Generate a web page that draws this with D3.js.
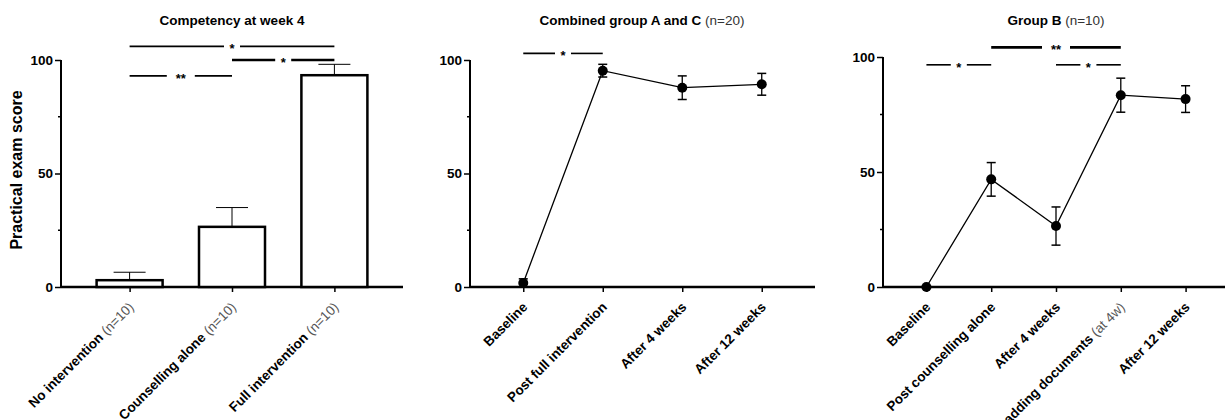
<!DOCTYPE html>
<html>
<head>
<meta charset="utf-8">
<script src="https://cdn.jsdelivr.net/npm/d3@7"></script>
<style>
  html, body { margin: 0; padding: 0; background: #fff; }
  svg { display: block; font-family: "Liberation Sans", Arial, sans-serif; }
</style>
</head>
<body>
<svg id="chart" width="1225" height="420"></svg>
<script>
// ---------- Data ----------
// Panel 1: bar chart
const p1Categories = ["No intervention", "Counselling alone", "Full intervention"];
const p1Suffix = ["(n=10)", "(n=10)", "(n=10)"];
const p1Values = [3, 26.5, 93.3];
const p1Errors = [3.5, 8.5, 4.8];
const p1Sig = [
  { from: 0, to: 2, label: "*", y: 106, heavy: false },
  { from: 1, to: 2, label: "*", y: 100, heavy: true },
  { from: 0, to: 1, label: "**", y: 93, heavy: false }
];

// Panel 2: combined group A and C
const p2Categories = ["Baseline", "Post full intervention", "After 4 weeks", "After 12 weeks"];
const p2Suffix = ["", "", "", ""];
const p2Values = [1.8, 95.3, 87.8, 89.3];
const p2Errors = [1.8, 2.8, 5.2, 4.8];
const p2Sig = [
  { from: 0, to: 1, label: "*", y: 102.9, heavy: false }
];

// Panel 3: group B
const p3Categories = ["Baseline", "Post counselling alone", "After 4 weeks", "Post adding documents", "After 12 weeks"];
const p3Suffix = ["", "", "", "(at 4w)", ""];
const p3Values = [0, 46.8, 26.5, 83.4, 81.7];
const p3Errors = [0, 7.3, 8.3, 7.4, 5.8];
const p3Sig = [
  { from: 1, to: 3, label: "**", y: 104.2, heavy: true },
  { from: 0, to: 1, label: "*", y: 96.6, heavy: false },
  { from: 2, to: 3, label: "*", y: 96.6, heavy: false }
];

const yTicksMajor = [0, 50, 100];
const yTicksMinor = [25, 75];
const titles = [
  { bold: "Competency at week 4", normal: "" },
  { bold: "Combined group A and C", normal: " (n=20)" },
  { bold: "Group B", normal: " (n=10)" }
];
const yLabel = "Practical exam score";

// ---------- Drawing ----------
const svg = d3.select("#chart");
const axisY0 = 287;

function drawPanel(cfg) {
  const g = svg.append("g");
  const x = d3.scalePoint().domain(cfg.categories).range([cfg.x0, cfg.x1]).padding(0.67);
  const y = d3.scaleLinear().domain([0, 100]).range([axisY0, cfg.yTop]);

  // axes
  const yAxis = d3.axisLeft(y).tickValues(yTicksMajor).tickSize(6).tickPadding(2);
  const ya = g.append("g").attr("transform", `translate(${cfg.x0},0)`).call(yAxis);
  ya.select(".domain").attr("d", `M0,${y(100)}V${axisY0}`).attr("stroke-width", 2);
  ya.selectAll(".tick line").attr("stroke-width", 1.5);
  ya.selectAll(".tick text").attr("font-size", 13.5).attr("font-weight", "bold").attr("fill", "#000")
    .attr("font-family", "Liberation Sans, Arial, sans-serif");
  g.selectAll(".minor").data(yTicksMinor).join("line")
    .attr("x1", cfg.x0 - 3).attr("x2", cfg.x0)
    .attr("y1", d => y(d)).attr("y2", d => y(d))
    .attr("stroke", "#000").attr("stroke-width", 1.5);

  const xAxis = d3.axisBottom(x).tickSize(5).tickFormat("");
  const xa = g.append("g").attr("transform", `translate(0,${axisY0})`).call(xAxis);
  xa.select(".domain").attr("d", `M${cfg.x0},0H${cfg.x1}`).attr("stroke-width", 2.5);
  xa.selectAll(".tick line").attr("stroke-width", 1.5);

  // x tick labels
  cfg.categories.forEach((c, i) => {
    const t = g.append("text")
      .attr("transform", `translate(${x(c) + 5},${axisY0 + 21}) rotate(-45)`)
      .attr("text-anchor", "end")
      .attr("font-size", 13.5);
    t.append("tspan").attr("font-weight", "bold").attr("fill", "#000").text(c);
    if (cfg.suffix[i]) t.append("tspan").attr("font-weight", "normal").attr("fill", "#555").text(" " + cfg.suffix[i]);
  });

  // title
  const tt = g.append("text")
    .attr("x", cfg.titleX).attr("y", 25)
    .attr("text-anchor", "middle").attr("font-size", 13.5);
  tt.append("tspan").attr("font-weight", "bold").attr("fill", "#000").text(cfg.title.bold);
  if (cfg.title.normal) tt.append("tspan").attr("fill", "#333").text(cfg.title.normal);

  // significance brackets
  cfg.sig.forEach(s => {
    const xa0 = x(cfg.categories[s.from]), xa1 = x(cfg.categories[s.to]);
    const mid = (xa0 + xa1) / 2;
    const yy = y(s.y);
    const gap = s.label.length > 1 ? 14 : 8;
    const sw = s.heavy ? 2.6 : 1.6;
    g.append("line").attr("x1", xa0).attr("x2", mid - gap).attr("y1", yy).attr("y2", yy)
      .attr("stroke", "#000").attr("stroke-width", sw);
    g.append("line").attr("x1", mid + gap).attr("x2", xa1).attr("y1", yy).attr("y2", yy)
      .attr("stroke", "#000").attr("stroke-width", sw);
    g.append("text").attr("x", mid).attr("y", yy + 7).attr("text-anchor", "middle")
      .attr("font-size", 13).attr("font-weight", "bold").text(s.label);
  });

  return { g, x, y };
}

// Panel 1 (bars)
{
  const { g, x, y } = drawPanel({
    categories: p1Categories, suffix: p1Suffix, x0: 61, x1: 403, yTop: 60,
    title: titles[0], titleX: 232, sig: p1Sig
  });
  const bw = 66;
  const data = p1Categories.map((c, i) => ({ c, v: p1Values[i], e: p1Errors[i] }));
  // error bars (upward only)
  g.selectAll(".err").data(data).join("g").each(function(d) {
    const gg = d3.select(this);
    gg.append("line").attr("x1", x(d.c)).attr("x2", x(d.c)).attr("y1", y(d.v)).attr("y2", y(d.v + d.e))
      .attr("stroke", "#000").attr("stroke-width", 1);
    gg.append("line").attr("x1", x(d.c) - 16).attr("x2", x(d.c) + 16).attr("y1", y(d.v + d.e)).attr("y2", y(d.v + d.e))
      .attr("stroke", "#000").attr("stroke-width", 1);
  });
  g.selectAll(".bar").data(data).join("rect")
    .attr("x", d => x(d.c) - bw / 2).attr("width", bw)
    .attr("y", d => y(d.v)).attr("height", d => axisY0 - y(d.v))
    .attr("fill", "#fff").attr("stroke", "#000").attr("stroke-width", 2.5);
  // y label
  svg.append("text").attr("transform", `translate(22,170) rotate(-90)`)
    .attr("text-anchor", "middle").attr("font-size", 16).attr("font-weight", "bold").text(yLabel);
}

function drawLinePanel(cfg, values, errors) {
  const { g, x, y } = drawPanel(cfg);
  const data = cfg.categories.map((c, i) => ({ c, v: values[i], e: errors[i] }));
  g.append("path").datum(data)
    .attr("d", d3.line().x(d => x(d.c)).y(d => y(d.v)))
    .attr("fill", "none").attr("stroke", "#000").attr("stroke-width", 1.3);
  data.forEach(d => {
    if (d.e > 0) {
      const lo = Math.max(0, d.v - d.e), hi = d.v + d.e;
      g.append("line").attr("x1", x(d.c)).attr("x2", x(d.c)).attr("y1", y(lo)).attr("y2", y(hi))
        .attr("stroke", "#000").attr("stroke-width", 1.3);
      [lo, hi].forEach(v => g.append("line").attr("x1", x(d.c) - 4.5).attr("x2", x(d.c) + 4.5)
        .attr("y1", y(v)).attr("y2", y(v)).attr("stroke", "#000").attr("stroke-width", 1.5));
    }
  });
  g.selectAll(".pt").data(data).join("circle")
    .attr("cx", d => x(d.c)).attr("cy", d => y(d.v)).attr("r", 5).attr("fill", "#000");
}

drawLinePanel({
  categories: p2Categories, suffix: p2Suffix, x0: 470, x1: 815, yTop: 60,
  title: titles[1], titleX: 642, sig: p2Sig
}, p2Values, p2Errors);

drawLinePanel({
  categories: p3Categories, suffix: p3Suffix, x0: 883, x1: 1229, yTop: 57,
  title: titles[2], titleX: 1056, sig: p3Sig
}, p3Values, p3Errors);
</script>
</body>
</html>
